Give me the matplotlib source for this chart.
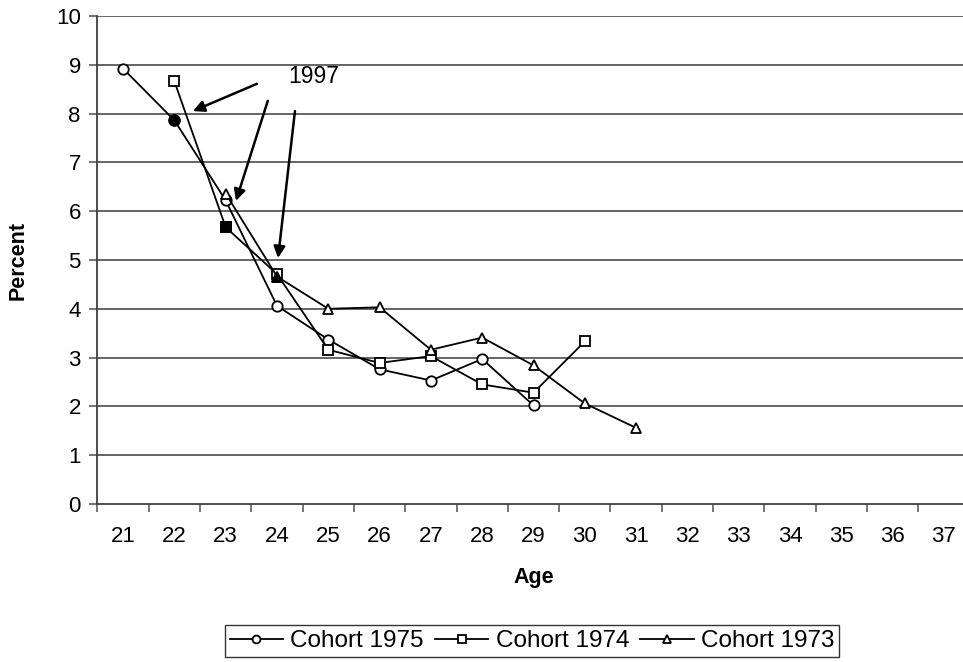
import matplotlib
matplotlib.use("Agg")
from matplotlib import pyplot as plt
import numpy as np

plt.rcParams['font.family'] = ['Liberation Sans', 'DejaVu Sans']

# ages shown on the category axis
age_ticks = list(range(21, 38))

# cohort series (percent by age)
ages_1975 = [21, 22, 23, 24, 25, 26, 27, 28, 29]
pct_1975 = [8.92, 7.86, 6.22, 4.06, 3.37, 2.76, 2.53, 2.97, 2.02]

ages_1974 = [22, 23, 24, 25, 26, 27, 28, 29, 30]
pct_1974 = [8.66, 5.67, 4.71, 3.16, 2.89, 3.03, 2.45, 2.28, 3.33]

ages_1973 = [23, 24, 25, 26, 27, 28, 29, 30, 31]
pct_1973 = [6.36, 4.66, 4.00, 4.03, 3.16, 3.41, 2.84, 2.06, 1.56]

# the 1997 observation in each cohort (drawn filled)
year_1997 = {'1975': 22, '1974': 23, '1973': 24}

fig = plt.figure(figsize=(9.63, 6.62), dpi=100)
ax = fig.add_axes([0.1012, 0.2387, 0.9056, 0.7372])

grid_c = '#3a3a3a'
for y in range(1, 11):
    ax.axhline(y, color=grid_c, lw=1.1, zorder=1)

ms = 7.5
lw = 1.3
series = [
    ('Cohort 1975', ages_1975, pct_1975, 'o', '1975'),
    ('Cohort 1974', ages_1974, pct_1974, 's', '1974'),
    ('Cohort 1973', ages_1973, pct_1973, '^', '1973'),
]
for label, xs, ys, mk, key in series:
    ax.plot(xs, ys, color='black', lw=lw, marker=mk, ms=ms,
            mfc='white', mec='black', mew=1.3, label=label, zorder=3)
    i = xs.index(year_1997[key])
    ax.plot([xs[i]], [ys[i]], linestyle='none', marker=mk, ms=ms,
            mfc='black', mec='black', mew=1.3, zorder=4)

# arrows pointing at the 1997 points
arrows = [((23.61, 8.61), (22.36, 8.05)),
          ((23.82, 8.26), (23.20, 6.21)),
          ((24.35, 8.05), (24.02, 5.04))]
for start, end in arrows:
    ax.annotate('', xy=end, xytext=start,
                arrowprops=dict(arrowstyle='-|>', color='black', lw=1.8,
                                mutation_scale=17, shrinkA=0, shrinkB=0),
                zorder=5)
ax.text(24.21, 8.75, '1997', fontsize=16.5, va='center', ha='left')

ax.set_xlim(20.5, 37.5)
ax.set_ylim(0, 10)
ax.set_xticks(age_ticks)
ax.set_xticklabels([str(a) for a in age_ticks])
ax.set_xticks(np.arange(20.5, 38.0, 1.0), minor=True)
ax.tick_params(axis='x', which='major', length=0, labelsize=16, pad=16)
ax.tick_params(axis='x', which='minor', length=6, width=1.1, color='#505050', direction='out')
ax.set_yticks(range(0, 11))
ax.tick_params(axis='y', length=6, width=1.1, color='#505050', labelsize=16, pad=6)

for side in ['top', 'right']:
    ax.spines[side].set_visible(False)
ax.spines['left'].set_color('#404040')
ax.spines['bottom'].set_color('#404040')
ax.spines['left'].set_linewidth(1.3)
ax.spines['bottom'].set_linewidth(1.3)

fig.text(534 / 963, 1 - 577 / 662, 'Age', fontsize=15.5, fontweight='bold',
         ha='center', va='center')
fig.text(18 / 963, 1 - 260 / 662, 'Percent', fontsize=15.5, fontweight='bold',
         ha='center', va='center', rotation=90)

leg = fig.legend(loc='center', bbox_to_anchor=(532 / 963, 1 - 641 / 662), ncol=3,
                 fontsize=17.5, frameon=True, fancybox=False, edgecolor='black',
                 handlelength=2.2, handletextpad=0.3, columnspacing=0.45,
                 borderpad=0.2, markerscale=0.75)
leg.get_frame().set_linewidth(1.0)

fig.savefig('out.png', dpi=100)
